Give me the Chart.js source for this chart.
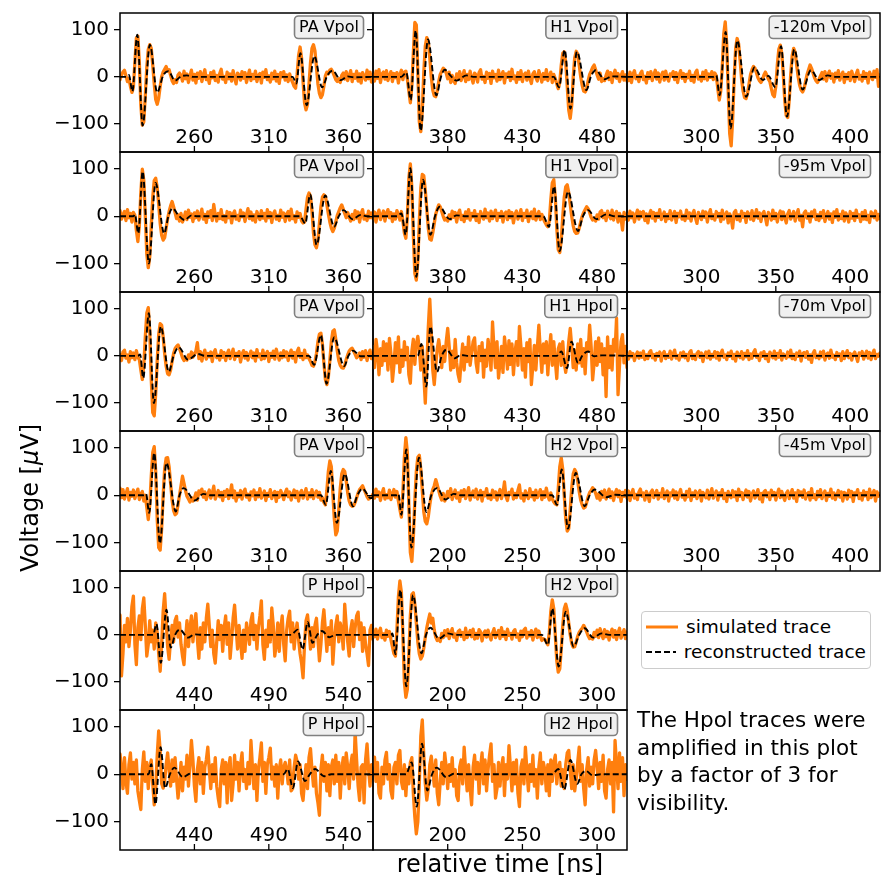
<!DOCTYPE html>
<html>
<head>
<meta charset="utf-8">
<script src="https://cdn.jsdelivr.net/npm/chart.js@4.4.1/dist/chart.umd.min.js"></script>
<style>
  body { margin: 0; background: #fff; }
  #fig { position: relative; width: 882px; height: 881px; overflow: hidden; font-family: "DejaVu Sans", sans-serif; color: #000; }
  #fig canvas { position: absolute; }
  .txt { position: absolute; white-space: nowrap; }
</style>
</head>
<body>
<div id="fig"></div>
<script>
// simulated traces (1 ns samples, starting at the panel's left edge) and reconstructed traces [t, V]
const simR1C1 = [
  -6, 4, 10, 14, 2, -10, -4, -20, -33, -22,
  30, 82, 86, 30, -60, -102, -95, -40, 20, 58,
  68, 60, 25, -15, -48, -58, -45, -20, 0, 10,
  16, 22, 12, 15, 3, -8, -14, -6, -12, 4,
  8, 3, -9, 12, -4, 6, -12, 2, 14, -7,
  5, -13, 8, -3, 11, -10, 4, 15, -6, 2,
  -14, 9, -2, 12, -8, 3, -11, 7, 16, -5,
  1, -12, 10, -4, 6, -9, 13, -2, -15, 8,
  4, -7, 11, -3, 9, -12, 2, 14, -8, 5,
  -4, 12, -10, 3, 7, -13, 10, -1, 15, -6,
  2, -11, 8, -4, 12, -9, 5, -14, 9, 0,
  11, -7, 4, -10, 6, -5, -12, -20, -24, 5,
  45, 63, 40, -10, -55, -70, -58, -15, 30, 60,
  68, 55, 20, -15, -35, -44, -38, -20, 2, 10,
  6, 14, 16, 10, 2, -6, -10, -4, -12, 3,
  8, -5, 11, -8, 2, 13, -10, 5, -3, 12,
  -9, 6, -13, 9, 1, -7, 14, -4, 10, -11,
  5
];
const recoR1C1 = [[210,0],[214,0],[216,4],[218.3,-31],[221.6,89],[225.2,-103],[230.1,68],[235,-33],[239,3],[242.5,12],[247,-8],[251,1],[255,3],[259,0],[326,0],[328.5,-14],[331.2,50],[335.4,-60],[340.6,44],[345.8,-22],[349.5,4],[352.9,13],[358.4,-7],[363,1],[367,-1],[380,0]];

const simR1C2 = [
  4, -9, 12, -3, 15, -12, 6, 10, -5, 13,
  -8, 2, 11, -10, 7, -2, 9, -13, 5, 14,
  -6, 10, 12, -5, -30, -55, -20, 50, 115, 110,
  10, -95, -116, -70, 10, 65, 83, 75, 40, 0,
  -28, -40, -42, -30, -10, 5, 12, 18, 15, 8,
  -4, 10, -12, 3, -9, -14, 6, -3, 11, -8,
  2, 13, -10, 5, -6, 12, -2, -13, 8, 4,
  -11, 9, 15, -5, 1, -12, 10, -3, 7, -14,
  12, -2, 5, -9, 14, -6, 3, 11, -13, 6,
  -1, 10, -8, 16, -4, 2, -12, 9, -5, 13,
  -10, 4, 8, -7, 12, -3, -14, 6, 11, -2,
  -9, 13, 3, -11, 7, -5, 15, -8, 2, 10,
  -12, 5, -4, -15, -25, -12, 25, 50, 53, 30,
  -20, -70, -88, -60, 0, 40, 54, 48, 25, 0,
  -18, -30, -32, -25, -8, 5, 12, 20, 25, 15,
  4, -5, 8, -10, -4, -8, 3, 12, -6, 9,
  -12, 5, 14, -3, 7, -10, 2, 11, -7, 4,
  -9
];
const recoR1C2 = [[330,0],[349,0],[352.3,9],[355.2,-49],[358.6,98],[361.9,-114],[366.8,79],[372.4,-39],[375.5,0],[378,15],[382,2],[385.8,-8],[392.5,3],[397,0],[451,0],[454.5,-22],[458.3,57],[462.1,-67],[466.5,53],[472.8,-28],[476,2],[479,14],[485,-5],[490,1],[500,0]];

const simR1C3 = [
  3, -8, 10, -12, 5, 13, -4, 2, -10, 7,
  12, -6, 1, -13, 9, -3, 11, -8, 4, 14,
  -5, 8, -11, 3, 10, -7, 12, -2, -9, 6,
  2, 11, -6, 9, -12, 4, 13, -3, 7, -10,
  5, -2, 12, -8, 3, -11, 9, 14, -5, 1,
  -9, 10, -4, 13, -7, 6, -1, 11, -6, 8,
  2, -25, -49, -30, 20, 90, 116, 70, -30, -120,
  -146, -90, -5, 60, 81, 70, 35, -5, -30, -44,
  -46, -35, -15, 5, 15, 22, 18, 8, -2, -8,
  -12, -6, 4, 10, 3, -5, -10, -25, -38, -42,
  -20, 25, 58, 67, 50, 5, -50, -82, -86, -50,
  5, 45, 60, 52, 25, 0, -18, -28, -32, -25,
  -10, 5, 15, 25, 18, 8, -2, -8, -12, -6,
  2, 9, -5, 11, -9, 4, 12, -3, 6, -11,
  8, -2, 13, -7, 3, 10, -12, 5, -4, 9,
  -8, 12, 1, -10, 6, 14, -5, 3, -9, 11,
  -3, 7, -13, 10, 2, -6, 12, -1, 15, -20,
  4
];
const recoR1C3 = [[250,0],[308,0],[310,3],[312.2,-39],[316.3,95],[319.6,-109],[324.1,77],[330.1,-42],[335.7,20],[341.3,-7],[345,2],[349.7,-22],[353.5,65],[357.5,-84],[362.4,58],[368,-27],[373.6,14],[379.2,-7],[384.8,3],[390,0],[420,0]];

const simR2C1 = [
  12, -6, 3, 10, -9, 14, -3, 6, -12, 8,
  2, -30, -53, -20, 50, 99, 75, 0, -80, -108,
  -85, -20, 40, 75, 80, 60, 25, -15, -40, -50,
  -45, -25, -5, 10, 22, 31, 20, 8, -5, 3,
  -10, 6, -12, -4, 9, -7, 13, -2, 5, -11,
  7, -3, 11, -8, 2, 15, -6, 4, -13, 9,
  -2, 12, -9, 25, 3, -10, 6, -5, 14, -7,
  1, -12, 10, -3, 8, -14, 5, 11, -6, 2,
  -9, 13, -1, 7, -11, 4, 16, -5, 9, -8,
  3, -12, 10, 1, -7, 12, -4, 6, -10, 14,
  -3, 8, -13, 5, 11, -6, 2, -9, 13, -2,
  7, -11, 4, 10, -8, 15, -5, 1, -12, 9,
  -2, 6, -10, -14, -12, 15, 40, 49, 42, 10,
  -35, -60, -66, -50, -15, 20, 40, 45, 42, 25,
  5, -12, -25, -32, -25, -12, 2, 10, 18, 24,
  15, 6, -3, 8, -2, -10, 4, -7, 12, -4,
  9, -12, 5, 14, -6, 2, -9, 11, -3, 7,
  -5
];
const recoR2C1 = [[210,0],[219,0],[220,4],[222.3,-36],[225.2,94],[229.4,-99],[233.9,70],[239.7,-36],[242.5,0],[245.3,17],[249,3],[253.5,-8],[258,2],[262,0],[331,0],[334.5,-15],[337.8,46],[342.1,-60],[347.9,44],[353.9,-22],[357,0],[360.2,13],[366.2,-6],[371.8,3],[376,0],[380,0]];

const simR2C2 = [
  -5, 9, -12, 4, 13, -7, 2, 11, -10, 6,
  14, -3, 8, -11, 5, -6, 12, 3, -8, 10,
  -10, -35, -46, 0, 80, 110, 60, -40, -120, -134,
  -95, -10, 60, 88, 85, 55, 15, -25, -48, -50,
  -35, -15, 5, 15, 24, 20, 10, 0, -8, -4,
  -10, 3, -6, 11, -2, 8, -12, 5, 13, -7,
  2, -11, 9, -4, 14, -8, 6, -1, 12, -9,
  4, -13, 10, 1, -6, 15, -3, 7, -10, 11,
  -5, 3, 13, -9, 6, -2, 10, -12, 5, 9,
  -7, 12, -3, 8, -14, 4, 11, -6, 2, 14,
  -9, 6, -2, 13, -11, 3, 9, -5, 15, -8,
  1, 10, -7, 4, -5, -12, -18, -22, -10, 35,
  70, 77, 40, -25, -70, -76, -50, 0, 40, 62,
  66, 50, 25, 0, -20, -32, -36, -35, -25, -12,
  0, 8, 14, 20, 16, 8, -2, -8, -4, -10,
  3, -6, 9, 12, -3, 6, -9, 11, 2, -5,
  13, -8, 4, 10, -12, 6, -3, -29, 8, -6,
  5
];
const recoR2C2 = [[330,0],[346,0],[349,6],[351.9,-39],[355,101],[359,-127],[363.5,77],[368.4,-39],[371.5,0],[374.6,20],[381.3,-6],[386,2],[392,0],[444,0],[447.8,-22],[451.2,63],[454.9,-73],[460.5,52],[467.2,-31],[470.5,0],[473.9,13],[479.5,-6],[486.2,4],[492,0],[500,0]];

const simR2C3 = [
  4, -8, 11, -3, 7, -12, 2, 13, -6, 9,
  -1, 10, -9, 5, -14, 3, 12, -4, 8, -10,
  6, -2, 14, -7, 1, 9, -11, 4, -5, 12,
  -8, 3, 10, -13, 6, -1, 11, -6, 2, -9,
  13, -4, 7, -10, 5, 12, -3, -15, 8, 1,
  -7, 11, -2, 9, -12, 4, 14, -5, 3, -8,
  10, -1, 6, -11, 13, -6, 2, 9, -14, 5,
  -3, -25, 8, 12, -7, 3, -10, 11, -2, 6,
  -13, 9, 4, -6, 12, -9, 1, 14, -4, 7,
  -11, 5, 10, -3, -18, 8, 2, -8, 13, -5,
  6, -12, 3, 11, -7, 9, -2, -14, 5, 12,
  -6, 1, 10, -10, 4, 14, -8, 2, -22, 7,
  11, -4, 5, -12, 9, -1, 13, -7, 3, -9,
  8, -3, 12, -11, 2, 10, -6, 5, -13, 9,
  -2, 14, -8, 4, -5, 11, -10, 7, 1, -12,
  10, -4, 6, -9, 13, -2, 3, -11, 8, -6,
  12, -7, 2, -13, 9, 5, -3, 11, -8, 4,
  -5
];
const recoR2C3 = [[250,0],[420,0]];

const simR3C1 = [
  3, -10, 8, 12, -5, 2, -13, 9, -4, 6,
  -8, 11, -3, -8, -30, -50, -20, 40, 90, 102,
  50, -50, -120, -127, -80, -10, 45, 68, 65, 40,
  5, -22, -38, -40, -30, -12, 5, 15, 20, 23,
  15, 6, -4, -10, -6, -9, 2, -5, 8, -3,
  4, 10, 28, -6, 9, -11, 3, 12, -7, 5,
  -2, 8, -12, 6, 13, -4, 1, -9, 11, -3,
  7, -10, 4, 12, -6, 2, 14, -8, 5, -1,
  9, -13, 3, 11, -5, 7, -9, 1, 10, -4,
  6, -11, 13, -2, 4, -8, 12, -6, 3, 9,
  -12, 5, -3, 10, -7, 14, 1, -9, 6, -4,
  11, -2, 8, -10, 3, 12, -5, 7, -13, 9,
  16, -3, 5, -8, 12, -4, 2, -6, -12, -20,
  -22, -12, 5, 30, 46, 48, 25, -15, -50, -61,
  -45, -10, 30, 52, 55, 35, 10, -10, -20, -25,
  -26, -20, -8, 2, 10, 14, 16, 10, 3, -4,
  -1, 6, -8, 9, -3, 11, -10, 4, 12, -6,
  5
];
const recoR3C1 = [[210,0],[222,0],[223.5,3],[225.6,-47],[229.4,90],[232.8,-100],[237.4,62],[242.8,-34],[246,0],[249.5,18],[255.7,-8],[262.4,4],[267,0],[337,0],[340.5,-19],[345,44],[348.8,-59],[353.9,39],[360.6,-22],[363.5,0],[366.6,11],[371.8,-1],[380,0]];

const simR3C2 = [
  20, -25, 35, 10, -40, 15, -20, 30, -10, 25,
  -30, 37, 5, -54, -20, 28, -15, 40, -35, 12,
  -22, 30, -8, 18, -40, -58, 10, 35, -18, 25,
  41, 15, -30, 20, -40, -100, -20, 60, 120, 50,
  -30, -61, -20, 15, 34, 10, -25, 20, -12, 30,
  58, 20, -30, 10, -25, 35, -15, -40, -54, -10,
  25, -30, 18, -12, 40, -20, 5, 30, 38, -15,
  -35, 20, -10, 28, -45, 12, -22, 35, 8, -30,
  72, 15, -25, 30, -47, -15, 20, -35, 40, 10,
  -28, 32, -18, 25, -40, 8, 30, -20, 62, 20,
  -30, 15, -45, 28, -12, 35, -61, -20, 22, -30,
  18, 65, 10, -35, 25, -15, 30, -40, 12, 45,
  -20, 30, -10, -48, 15, 25, -20, 30, -15, -35,
  -10, 30, 58, 20, -25, 12, -30, 25, -15, 35,
  -22, 15, -38, 28, 10, 65, 20, -51, -15, 30,
  -20, 38, -12, 25, -40, 15, -86, 40, -25, 20,
  -30, 35, 10, 80, -82, -20, 30, 45, -15, 20,
  -25
];
const recoR3C2 = [[330,0],[360,0],[362.4,25],[365.7,-65],[368.4,62],[372.8,-34],[376,0],[379.1,13],[384.7,-5],[389,2],[393,0],[453,0],[456,9],[459.9,-26],[462.8,30],[467.2,-15],[470,0],[473.9,9],[478,-1],[483,1],[500,0]];

const simR3C3 = [
  3, -7, 9, -2, 5, -10, 1, 8, -5, 6,
  -3, 10, -8, 2, -6, 7, 11, -4, 3, -9,
  5, -1, 8, -11, 4, 9, -6, 2, -3, 10,
  -7, 4, 12, -5, 1, -9, 6, -2, 8, -4,
  3, -10, 7, 11, -6, 2, -8, 5, 9, -3,
  6, -12, 1, 8, -4, 10, -7, 3, -2, 9,
  -5, 7, -9, 4, 12, -3, 2, -8, 6, -1,
  10, -6, 3, -11, 8, 1, -4, 9, -7, 5,
  -2, 11, -8, 4, -5, 7, 13, -3, 2, -10,
  6, -1, 9, -6, 3, -12, 8, 2, -4, 10,
  -7, 5, -3, 11, -9, 4, 1, -5, 8, -2,
  12, -6, 3, -8, 6, -1, 10, -11, 4, 7,
  -3, 9, -7, 2, -14, 5, 11, -4, 1, -6,
  8, -2, 10, -9, 3, 6, -5, 12, -3, 1,
  -8, 7, -1, 4, -10, 9, -6, 2, 11, -4,
  5, -9, 3, 8, -2, -12, 6, 1, 9, -7,
  2, 10, -5, 7, -8, 4, 12, -6, 3, -1,
  6
];
const recoR3C3 = [[250,0],[420,0]];

const simR4C1 = [
  15, -5, 12, -8, 3, 14, -10, 6, -2, 11,
  -7, 4, 13, -9, 2, 8, -12, 0, -25, -51,
  -20, 40, 90, 102, 50, -50, -110, -115, -70, 0,
  55, 78, 79, 60, 25, -10, -32, -41, -38, -20,
  0, 20, 40, 25, 10, -2, -8, -14, -5, -12,
  -6, 5, -10, 9, 3, 13, -4, 7, -9, 2,
  11, -6, 4, 19, -8, 1, 10, -3, 6, -11,
  8, -2, 12, -7, 3, 22, -5, 9, -12, 4,
  -3, 10, -8, 6, 13, -4, 2, -10, 7, -1,
  11, -9, 5, -3, 14, -6, 1, 9, -11, 4,
  -2, 12, -7, 3, 8, -13, 6, -4, 10, 2,
  -9, 5, 13, -3, 7, -10, 1, 11, -5, 8,
  -12, 4, 10, -6, 2, 14, -8, 5, -3, 12,
  -7, 3, 9, -4, 6, -10, -5, -15, -20, 10,
  50, 72, 60, 5, -50, -83, -75, -30, 15, 45,
  54, 50, 30, 5, -12, -20, -23, -22, -15, -5,
  5, 12, 16, 20, 12, 5, -3, -8, -6, -4,
  3
];
const recoR4C1 = [[210,0],[226,0],[227.5,3],[229.6,-37],[233,89],[236.8,-101],[241.2,68],[247.5,-34],[250,0],[252.8,15],[260.2,-11],[266,3],[271,0],[345,0],[348.3,-20],[351.7,51],[355.7,-58],[361,45],[366.6,-23],[369.5,0],[372.9,14],[378.5,-6],[380,-4]];

const simR4C2 = [
  10, -6, 13, -2, 7, -11, 4, 14, -8, 1,
  -5, 11, -9, 3, 12, -4, 8, -12, -30, -46,
  5, 80, 121, 90, -20, -120, -139, -90, -10, 50,
  80, 84, 55, 10, -35, -55, -60, -45, -20, 0,
  12, 20, 33, 22, 10, -2, -10, 4, -12, -5,
  8, -3, 14, -9, 2, 11, -6, 5, -13, 9,
  -2, 12, -7, 4, 16, -10, 1, 9, -4, 13,
  -8, 3, 10, -12, 6, -1, 14, -6, 2, -9,
  11, -4, 7, -10, 3, 12, -7, 5, 28, -3,
  -11, 6, 2, 13, -8, 4, -5, 10, 22, -6,
  3, -12, 9, 1, -7, 14, -3, 6, -10, 11,
  -5, 2, 12, -9, 7, -4, 15, -1, -10, 5,
  -8, -14, -18, -20, 15, 60, 79, 55, 0, -50,
  -75, -70, -30, 15, 45, 54, 48, 30, 8, -10,
  -20, -27, -25, -15, -3, 6, 10, 16, 12, 4,
  -6, 3, -10, 8, -4, 11, -8, 2, 13, -5,
  7, -11, 4, 12, -3, 9, -13, 6, -2, 10,
  -6
];
const recoR4C2 = [[150,0],[166,0],[167,3],[169,-41],[172.3,96],[175.7,-110],[180.8,79],[185.7,-35],[189,0],[192.8,15],[198.6,-9],[204,3],[209,0],[270,0],[273.2,-20],[276.3,54],[280.5,-70],[285.7,47],[291.7,-23],[295,0],[298.4,12],[306.2,-4],[312,1],[320,0]];

const simR4C3 = [
  -4, 9, -11, 3, 12, -6, 2, -9, 7, 13,
  -2, 5, -10, 8, 1, -13, 6, 11, -5, 3,
  10, -8, 4, -3, 14, -7, 2, 9, -12, 5,
  -1, 11, -6, 7, -9, 3, 12, -4, 1, -10,
  8, -3, 13, -11, 5, -2, 9, -7, 4, 10,
  -12, 6, 1, -5, 11, -8, 3, 14, -6, 2,
  9, -10, 5, -1, 12, -7, 4, -13, 8, 0,
  -5, 10, -3, 7, -11, 13, -2, 6, -9, 3,
  11, -4, 8, -12, 2, 9, -6, 1, 12, -8,
  4, -14, 7, 10, -3, 5, -9, 11, -1, 6,
  -10, 3, 13, -5, 8, -2, -11, 4, 9, -7,
  2, 12, -6, 5, -13, 10, -1, 7, -4, 11,
  -8, 3, 6, -10, 14, -5, 1, -9, 8, -3,
  12, -7, 2, 9, -11, 4, -2, 13, -6, 5,
  -9, 1, 10, -4, 7, -12, 6, 3, -8, 11,
  -3, 8, -13, 5, 2, 12, -7, 4, -10, 9,
  -1, 6, -9, 13, -5, 3, 10, -12, 7, -2,
  4
];
const recoR4C3 = [[250,0],[420,0]];

const simR5C1 = [
  42, -87, -40, 20, -15, 35, -25, 10, 60, 82,
  -20, -63, 15, 40, -10, 55, 78, 20, -45, -20,
  30, -15, 10, -30, 25, 5, -40, -77, -20, 50,
  87, 30, -25, -52, -10, 20, -15, 30, 39, -5,
  25, -20, -45, -63, -10, 30, -25, 15, 40, -15,
  20, 45, -10, -50, 15, -30, 25, -15, 35, 65,
  20, -25, 10, -40, -60, -15, 30, -10, 20, -35,
  15, 40, -20, 25, -50, -10, 35, 63, 15, -30,
  20, -15, -50, 10, -35, 25, 5, -20, 30, 45,
  -10, 20, -30, 15, 40, 72, -20, -52, 10, -25,
  30, -15, 57, 20, -45, -20, 25, -35, 15, 40,
  -20, -55, 10, 35, 50, -15, 25, -30, 5, 25,
  -10, -40, -60, -91, -20, 30, 42, 10, -30, 15,
  -25, 20, 35, -10, -55, -20, 25, 53, 10, -35,
  15, -20, 30, -62, -10, 20, 40, -15, 25, 10,
  -30, 65, 20, -15, -45, 10, 30, -25, 15, 40,
  48, -10, 25, -35, 15, -20, -40, -65, 10, 20,
  -10
];
const recoR5C1 = [[390,0],[412.3,0],[414.5,23],[417.4,-59],[421.2,53],[424.1,-27],[427,0],[430.2,11],[435.7,-6],[440,1],[445,0],[505,0],[509.4,11],[512.7,-31],[516.1,27],[519.4,-17],[522.5,0],[525.7,8],[530.6,-5],[535,0],[560,0]];

const simR5C2 = [
  8, -4, 12, -9, 5, 14, -6, 2, -11, 10,
  -3, 7, -10, -25, -40, -45, 10, 80, 114, 90,
  0, -100, -132, -115, -40, 40, 85, 89, 65, 25,
  -15, -40, -51, -45, -28, -5, 15, 30, 44, 25,
  35, 10, -5, -12, -8, -14, 3, -6, 9, -2,
  11, -8, 4, 13, -5, 2, -12, 7, 10, -3,
  5, -10, 14, -6, 1, 9, -4, 12, -9, 3,
  -7, 11, 6, -13, 2, 8, -5, 10, -2, -11,
  4, 13, -6, 1, 9, -8, 15, -3, 6, -10,
  12, -1, 3, -9, 7, 11, -5, 2, -12, 8,
  -4, 10, 14, -7, 5, -2, 9, -11, 3, 12,
  -6, 8, -3, -12, -8, -10, -15, -21, 5, 50,
  74, 55, 0, -55, -79, -72, -30, 20, 55, 65,
  52, 25, 0, -18, -26, -25, -15, -3, 5, 10,
  14, 20, 14, 6, -2, -8, -4, -9, 5, -3,
  10, -6, 13, 2, -8, 11, -4, 7, -11, 3,
  12, -5, 9, -10, 4, 14, -7, 1, 11, -8,
  6
];
const recoR5C2 = [[150,0],[162,0],[163,3],[165,-41],[168.3,95],[172.3,-109],[176.8,84],[182.4,-39],[185.5,0],[188.4,15],[194.2,-8],[200,3],[205,0],[263,0],[267.1,-21],[270,56],[274.3,-67],[279,49],[284.3,-25],[288,0],[291.7,14],[297.3,-6],[303,3],[308,0],[320,0]];

const simR6C1 = [
  43, 10, -30, 35, -15, -40, 20, 45, -10, 25,
  -20, 30, -35, -55, -74, 10, 47, -15, 25, -30,
  15, 30, -20, -64, -30, 40, 91, 50, -20, -29,
  -15, 20, 45, 10, -25, 30, -15, 35, -10, -50,
  -20, 25, -35, 15, -10, 40, -25, 20, 71, 30,
  -25, -57, 10, 35, -20, 25, -40, 15, 30, 57,
  10, -30, 20, -15, 35, -25, -50, -68, 10, 30,
  -20, 25, -60, 15, 35, -55, -20, 40, -10, 25,
  -35, 20, 45, -15, 10, -30, 25, -20, 71, 15,
  -30, 20, -55, 10, 35, 66, -15, 25, -40, 20,
  35, 55, -10, 15, -25, 20, -50, 10, 30, -20,
  15, 25, 10, -20, 30, -35, -30, 15, 40, 27,
  -10, 20, -40, -55, -15, 20, -30, 35, 54, 10,
  -25, 15, -40, -60, -86, 10, 40, -15, 25, -35,
  20, -45, 15, 30, -20, 40, -15, 25, -50, 10,
  35, -20, 45, 15, -30, 20, 40, -10, 90, 30,
  -25, -55, 15, 20, -60, 30, 64, 10, -25, 20,
  -10
];
const recoR6C1 = [[390,0],[409.2,0],[411,21],[413.8,-63],[417.3,57],[420.3,-29],[423.5,0],[426.5,14],[432.3,-6],[437,1],[442,0],[500,0],[502.7,11],[506.2,-29],[509.6,27],[514.3,-14],[517.5,0],[521.2,11],[527,-4],[532,0],[560,0]];

const simR6C2 = [
  20, 36, -15, 25, -40, -50, 15, -20, 30, 46,
  -10, 20, -35, -50, 15, 25, -20, 40, 50, -15,
  -30, 20, -45, 10, -20, 25, 35, -40, -90, -125,
  -100, -20, 80, 114, 40, -20, -54, -30, 20, 38,
  10, -25, 30, -40, -64, -15, 25, -20, 45, 15,
  -30, 20, -15, 35, -25, 10, -45, -55, 15, 30,
  -20, 57, 10, -35, 20, -30, -64, 15, 40, -10,
  25, -40, 15, 45, -20, 30, -35, 10, 40, 64,
  -15, 20, -50, -30, 25, -25, 15, 35, -45, 20,
  -10, 60, 15, -35, 25, -20, 30, -40, -68, 15,
  30, -20, 57, 10, -35, 20, -15, 40, -25, 10,
  -50, 15, 45, -20, 25, 10, -35, 20, -45, 30,
  -15, 25, 40, -20, 15, 25, -25, 10, -30, 20,
  45, 50, 10, -30, 20, -35, -10, 25, 57, -15,
  20, -30, -64, 10, 35, -25, 15, -20, 30, 50,
  15, -30, 25, -15, 40, -35, -50, 10, 30, -20,
  25, -79, 71, 20, -30, 45, -15, 35, -45, 20,
  -10
];
const recoR6C2 = [[150,0],[172,0],[175.9,25],[179.3,-68],[182.8,64],[186.3,-34],[189.5,0],[192.7,14],[199,-6],[204,1],[209,0],[270,0],[274,11],[278,-32],[282.1,30],[286.7,-20],[289.5,0],[292.5,7],[297,-2],[303,0],[320,0]];

const yTicks = [-100, 0, 100];
const yMin = -159, yMax = 135;

const panels = [
  { r: 0, c: 0, label: 'PA Vpol', t0: 210, sim: simR1C1, reco: recoR1C1 },
  { r: 0, c: 1, label: 'H1 Vpol', t0: 330, sim: simR1C2, reco: recoR1C2 },
  { r: 0, c: 2, label: '-120m Vpol', t0: 250, sim: simR1C3, reco: recoR1C3 },
  { r: 1, c: 0, label: 'PA Vpol', t0: 210, sim: simR2C1, reco: recoR2C1 },
  { r: 1, c: 1, label: 'H1 Vpol', t0: 330, sim: simR2C2, reco: recoR2C2 },
  { r: 1, c: 2, label: '-95m Vpol', t0: 250, sim: simR2C3, reco: recoR2C3 },
  { r: 2, c: 0, label: 'PA Vpol', t0: 210, sim: simR3C1, reco: recoR3C1 },
  { r: 2, c: 1, label: 'H1 Hpol', t0: 330, sim: simR3C2, reco: recoR3C2 },
  { r: 2, c: 2, label: '-70m Vpol', t0: 250, sim: simR3C3, reco: recoR3C3 },
  { r: 3, c: 0, label: 'PA Vpol', t0: 210, sim: simR4C1, reco: recoR4C1 },
  { r: 3, c: 1, label: 'H2 Vpol', t0: 150, sim: simR4C2, reco: recoR4C2 },
  { r: 3, c: 2, label: '-45m Vpol', t0: 250, sim: simR4C3, reco: recoR4C3 },
  { r: 4, c: 0, label: 'P Hpol', t0: 390, sim: simR5C1, reco: recoR5C1 },
  { r: 4, c: 1, label: 'H2 Vpol', t0: 150, sim: simR5C2, reco: recoR5C2 },
  { r: 5, c: 0, label: 'P Hpol', t0: 390, sim: simR6C1, reco: recoR6C1 },
  { r: 5, c: 1, label: 'H2 Hpol', t0: 150, sim: simR6C2, reco: recoR6C2 }
];

Chart.defaults.font.family = '"DejaVu Sans"';
Chart.defaults.color = '#000';

const colLeft = [120, 373, 627, 880];
const rowTop = [];
for (let r = 0; r <= 6; r++) rowTop.push(Math.round(12.7 + r * 139.55));

const fig = document.getElementById('fig');

// frame, inward x ticks with labels inside the axes, and the rounded label box
const decor = {
  id: 'decor',
  afterDraw(chart, args, opts) {
    const { ctx, chartArea: a } = chart;
    const x = chart.scales.x;
    ctx.save();
    ctx.strokeStyle = '#000';
    ctx.lineWidth = 1.5;
    ctx.strokeRect(a.left, a.top, a.right - a.left, a.bottom - a.top);

    ctx.lineWidth = 1.3;
    ctx.fillStyle = '#000';
    ctx.font = '20px "DejaVu Sans"';
    ctx.textAlign = 'center';
    ctx.textBaseline = 'alphabetic';
    opts.ticks.forEach(t => {
      const px = x.getPixelForValue(t);
      ctx.beginPath();
      ctx.moveTo(px, a.bottom);
      ctx.lineTo(px, a.bottom - 6);
      ctx.stroke();
      ctx.fillText(String(t), px, a.bottom - 9.5);
    });

    ctx.font = '16px "DejaVu Sans"';
    const w = ctx.measureText(opts.label).width;
    const bw = w + 9, bh = 22.5;
    const bx = a.right - 9.5 - bw, by = a.top + 3;
    ctx.beginPath();
    ctx.roundRect(bx, by, bw, bh, 4);
    ctx.fillStyle = '#f0f0f0';
    ctx.fill();
    ctx.strokeStyle = '#808080';
    ctx.lineWidth = 1.6;
    ctx.stroke();
    ctx.fillStyle = '#000';
    ctx.textAlign = 'left';
    ctx.textBaseline = 'middle';
    ctx.fillText(opts.label, bx + 4.5, by + bh / 2 + 0.5);
    ctx.restore();
  }
};

panels.forEach(p => {
  const padL = p.c === 0 ? 70 : 8;
  const pad = 2;
  const W = colLeft[p.c + 1] - colLeft[p.c];
  const H = rowTop[p.r + 1] - rowTop[p.r];
  const cv = document.createElement('canvas');
  cv.width = W + padL + pad;
  cv.height = H + 2 * pad;
  cv.style.left = (colLeft[p.c] - padL) + 'px';
  cv.style.top = (rowTop[p.r] - pad) + 'px';
  cv.style.width = cv.width + 'px';
  cv.style.height = cv.height + 'px';
  fig.appendChild(cv);

  const xTicks = [p.t0 + 50, p.t0 + 100, p.t0 + 150];

  new Chart(cv.getContext('2d'), {
    type: 'line',
    data: {
      datasets: [
        {
          label: 'reconstructed trace',
          data: p.reco.map(([t, v]) => ({ x: t, y: v })),
          borderColor: '#000',
          borderWidth: 1.9,
          borderDash: [6, 3],
          pointRadius: 0,
          cubicInterpolationMode: 'monotone',
          fill: false
        },
        {
          label: 'simulated trace',
          data: p.sim.map((v, i) => ({ x: p.t0 + i, y: v })),
          borderColor: '#ff7f0e',
          borderWidth: 3.3,
          borderJoinStyle: 'round',
          borderCapStyle: 'round',
          pointRadius: 0,
          tension: 0,
          fill: false
        }
      ]
    },
    options: {
      responsive: false,
      animation: false,
      events: [],
      layout: { padding: { left: 0, right: pad, top: pad, bottom: pad } },
      plugins: {
        legend: { display: false },
        tooltip: { enabled: false },
        decor: { ticks: xTicks, label: p.label }
      },
      scales: {
        x: {
          type: 'linear',
          min: p.t0,
          max: p.t0 + 170,
          display: false
        },
        y: {
          type: 'linear',
          min: yMin,
          max: yMax,
          afterFit: s => { s.width = padL; s.paddingTop = 0; s.paddingBottom = 0; },
          afterBuildTicks: s => { s.ticks = yTicks.map(v => ({ value: v })); },
          border: { display: false },
          grid: {
            drawOnChartArea: false,
            drawTicks: true,
            tickLength: 6,
            color: '#000',
            lineWidth: 1.3
          },
          ticks: {
            padding: 5,
            font: { size: 20 },
            color: '#000',
            callback: v => p.c !== 0 ? '' : (v < 0 ? '\u2212' + Math.abs(v) : String(v))
          }
        }
      }
    },
    plugins: [decor]
  });
});

// axis labels, legend and note
function addText(html, css) {
  const d = document.createElement('div');
  d.className = 'txt';
  d.innerHTML = html;
  Object.assign(d.style, css);
  fig.appendChild(d);
  return d;
}

addText('Voltage [<i>\u03bc</i>V]', {
  left: '30px', top: '498px', fontSize: '24px',
  transform: 'translate(-50%, -50%) rotate(-90deg)'
});
addText('relative time [ns]', {
  left: '500px', top: '850px', fontSize: '24px', transform: 'translateX(-50%)'
});

addText(
  '<div style="display:flex;align-items:center;height:25px">' +
  '<svg width="32" height="10" style="margin-right:8px"><line x1="0" y1="5" x2="32" y2="5" stroke="#ff7f0e" stroke-width="3"/></svg>' +
  '<span>simulated trace</span></div>' +
  '<div style="display:flex;align-items:center;height:25px">' +
  '<svg width="32" height="10" style="margin-right:8px"><line x1="0" y1="5" x2="32" y2="5" stroke="#000" stroke-width="1.8" stroke-dasharray="6 3"/></svg>' +
  '<span>reconstructed trace</span></div>',
  {
    left: '641px', top: '611px', width: '220px', height: '52px', padding: '2px 4px',
    fontSize: '18.5px', border: '1.3px solid #cccccc', borderRadius: '4px', background: '#fff'
  }
);

addText('The Hpol traces were<br>amplified in this plot<br>by a factor of 3 for<br>visibility.', {
  left: '637px', top: '706px', fontSize: '21.5px', lineHeight: '27.5px'
});
</script>
</body>
</html>
